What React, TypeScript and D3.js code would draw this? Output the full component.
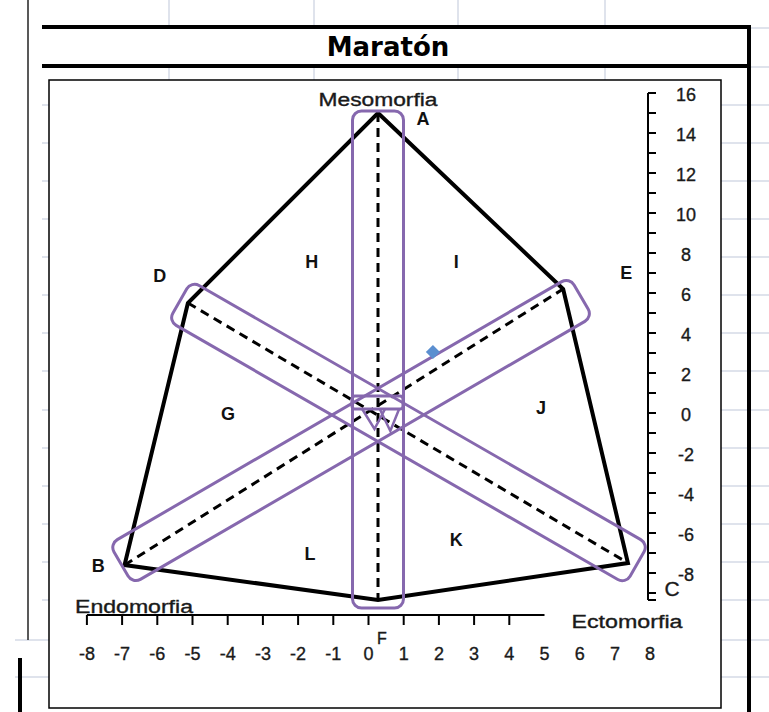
import React from "react";
import * as d3 from "d3";

// Somatochart frame vertices (x = ecto - endo, y = 2·meso - (endo + ecto))
const frameNames = ["A", "E", "C", "F", "B", "D"];
const frameX = [0, 5.26, 7.1, 0, -7.2, -5.4];
const frameY = [15, 6.2, -7.5, -9.35, -7.6, 5.5];

// Dashed reference axes through the origin
const axisLines: [string, string][] = [
  ["A", "F"],
  ["D", "C"],
  ["B", "E"],
];

// Rounded bands drawn around each reference axis (data ends + band width in px)
const bandX1 = [0, -5.63, -7.3];
const bandY1 = [15.1, 5.6, -7.55];
const bandX2 = [0, 7.36, 5.77];
const bandY2 = [-9.75, -7.55, 5.8];
const bandWidth = [51, 46, 46];

// Athlete's somatopoint
const pointX = [1.56];
const pointY = [3.05];

// Region / vertex labels
const labelText = ["A", "D", "E", "H", "I", "G", "J", "L", "K", "B"];
const labelX = [1.28, -6.2, 7.05, -1.88, 2.22, -4.26, 4.63, -1.93, 2.22, -7.95];
const labelY = [14.7, 6.85, 7.0, 7.55, 7.55, -0.05, 0.25, -7.05, -6.35, -7.65];

// Axis ticks
const xTickLabels = [-8, -7, -6, -5, -4, -3, -2, -1, 0, 1, 2, 3, 4, 5, 6, 7, 8];
const xTickMarks = [-8, -7, -6, -5, -4, -3, -2, -1, 0, 1, 2, 3, 4];
const yTickLabels = [16, 14, 12, 10, 8, 6, 4, 2, 0, -2, -4, -6, -8];
const yTickMarks = d3.range(-9, 17);

// Worksheet grid behind the chart
const gridRows = [105, 143, 181, 219, 257, 295, 333, 371, 410, 448, 486, 524, 562, 600];
const gridCols = [169, 314, 458, 605];

const W = 769;
const H = 712;

export default function App() {
  const x = d3.scaleLinear().domain([-8, 8]).range([96.4, 659.6]);
  const xAxis = d3.scaleLinear().domain([-8, 8]).range([86.9, 650.1]);
  const y = d3.scaleLinear().domain([-10, 16]).range([613, 93]);

  const pts = frameNames.map((n, i) => ({ n, x: frameX[i], y: frameY[i] }));
  const byName = (n: string) => pts.find((p) => p.n === n)!;
  const polyLine = d3
    .line<{ x: number; y: number }>()
    .x((d) => x(d.x))
    .y((d) => y(d.y))
    .curve(d3.curveLinearClosed);

  const purple = "#8668ae";
  const gridColor = "#d5dae6";
  const font = "'Liberation Sans', Arial, sans-serif";
  const ink = "#1a1a1a";

  const bands = bandX1.map((_, i) => {
    const p1 = [x(bandX1[i]), y(bandY1[i])];
    const p2 = [x(bandX2[i]), y(bandY2[i])];
    const len = Math.hypot(p2[0] - p1[0], p2[1] - p1[1]);
    const ang = (Math.atan2(p2[1] - p1[1], p2[0] - p1[0]) * 180) / Math.PI;
    return { p1, len, ang, w: bandWidth[i] };
  });

  const tickText = { fontFamily: font, fontSize: 18, fill: ink, stroke: ink, strokeWidth: 0.35 };

  return (
    <svg
      width={W}
      height={H}
      style={{ position: "fixed", left: 0, top: 0, background: "#fff" }}
    >
      {/* worksheet gridlines */}
      <g stroke={gridColor} strokeWidth={1.5}>
        {gridRows.map((r) => (
          <line key={"r" + r} x1={42} x2={W} y1={r} y2={r} />
        ))}
        <line x1={15} x2={W} y1={640} y2={640} />
        <line x1={15} x2={W} y1={677} y2={677} />
        <line x1={750} x2={W} y1={28} y2={28} />
        <line x1={750} x2={W} y1={67} y2={67} />
        {gridCols.map((c) => (
          <line key={"c" + c} x1={c} x2={c} y1={0} y2={82} />
        ))}
      </g>

      {/* sheet borders */}
      <line x1={28} x2={28} y1={0} y2={640} stroke="#222" strokeWidth={1.5} />
      <line x1={20} x2={20} y1={658} y2={H} stroke="#000" strokeWidth={4} />

      {/* title box */}
      <rect x={42} y={27} width={707} height={39} fill="#fff" />
      <line x1={42} x2={751} y1={27} y2={27} stroke="#000" strokeWidth={4} />
      <line x1={42} x2={751} y1={66} y2={66} stroke="#000" strokeWidth={4} />
      <line x1={749} x2={749} y1={25} y2={H} stroke="#000" strokeWidth={4} />
      <text
        x={388}
        y={56}
        textAnchor="middle"
        fontFamily="'DejaVu Sans', Verdana, sans-serif"
        fontWeight="bold"
        fontSize={26}
        fill="#000"
      >
        Maratón
      </text>

      {/* plot area */}
      <rect x={49} y={80} width={672} height={628} fill="#fff" stroke="#000" strokeWidth={1.5} />

      {/* frame polygon */}
      <path d={polyLine(pts) ?? ""} fill="none" stroke="#000" strokeWidth={4} strokeLinejoin="miter" />

      {/* dashed reference axes */}
      {axisLines.map(([a, b]) => {
        const pa = byName(a);
        const pb = byName(b);
        return (
          <line
            key={a + b}
            x1={x(pa.x)}
            y1={y(pa.y)}
            x2={x(pb.x)}
            y2={y(pb.y)}
            stroke="#000"
            strokeWidth={3}
            strokeDasharray="9 6"
          />
        );
      })}

      {/* rounded bands */}
      {bands.map((b, i) => (
        <g key={"b" + i} transform={`translate(${b.p1[0]},${b.p1[1]}) rotate(${b.ang})`}>
          <rect
            x={0}
            y={-b.w / 2}
            width={b.len}
            height={b.w}
            rx={9}
            ry={9}
            fill="none"
            stroke={purple}
            strokeWidth={3}
          />
        </g>
      ))}

      {/* small marks at the centre */}
      <rect x={x(-0.74)} y={y(0.85)} width={x(0.71) - x(-0.74)} height={y(0.2) - y(0.85)} rx={3} fill="none" stroke={purple} strokeWidth={3} />
      <path
        d={`M${x(-0.45)},${y(0.2)} L${x(-0.1)},${y(-0.8)} L${x(0.2)},${y(0.2)} M${x(0.05)},${y(0.2)} L${x(0.35)},${y(-0.9)} L${x(0.6)},${y(0.2)}`}
        fill="none"
        stroke={purple}
        strokeWidth={2.5}
      />

      {/* somatopoint */}
      {pointX.map((px, i) => (
        <rect
          key={"p" + i}
          x={x(px) - 5}
          y={y(pointY[i]) - 5}
          width={10}
          height={10}
          fill="#5b8fd0"
          transform={`rotate(45 ${x(px)} ${y(pointY[i])})`}
        />
      ))}

      {/* region / vertex labels */}
      {labelText.map((t, i) => (
        <text
          key={"l" + t}
          x={x(labelX[i])}
          y={y(labelY[i])}
          dy="0.36em"
          textAnchor="middle"
          fontFamily={font}
          fontWeight="bold"
          fontSize={18}
          fill="#111"
        >
          {t}
        </text>
      ))}
      <text x={672} y={588} dy="0.36em" textAnchor="middle" {...tickText} fontSize={21}>
        C
      </text>
      <text x={382} y={638} dy="0.36em" textAnchor="middle" {...tickText} fontSize={16}>
        F
      </text>

      {/* axis titles */}
      <text x={378} y={100} dy="0.36em" textAnchor="middle" {...tickText} textLength={119} lengthAdjust="spacingAndGlyphs">
        Mesomorfia
      </text>
      <text x={134} y={607} dy="0.36em" textAnchor="middle" {...tickText} textLength={118} lengthAdjust="spacingAndGlyphs">
        Endomorfia
      </text>
      <text x={627} y={622} dy="0.36em" textAnchor="middle" {...tickText} textLength={111} lengthAdjust="spacingAndGlyphs">
        Ectomorfia
      </text>

      {/* horizontal axis */}
      <line x1={xAxis(-8)} x2={xAxis(5)} y1={615} y2={615} stroke="#000" strokeWidth={2} />
      {xTickMarks.map((t) => (
        <line key={"xt" + t} x1={xAxis(t)} x2={xAxis(t)} y1={615} y2={625} stroke="#000" strokeWidth={2} />
      ))}
      {xTickLabels.map((t) => (
        <text key={"xl" + t} x={xAxis(t)} y={654} dy="0.36em" textAnchor="middle" {...tickText}>
          {t}
        </text>
      ))}

      {/* vertical axis */}
      <line x1={648} x2={648} y1={y(16)} y2={y(-9.35)} stroke="#000" strokeWidth={2} />
      {yTickMarks.map((t) => (
        <line key={"yt" + t} x1={648} x2={656} y1={y(t)} y2={y(t)} stroke="#000" strokeWidth={2} />
      ))}
      <line x1={648} x2={656} y1={y(-9.35)} y2={y(-9.35)} stroke="#000" strokeWidth={2} />
      {yTickLabels.map((t) => (
        <text key={"yl" + t} x={686} y={y(t) + 2} dy="0.36em" textAnchor="middle" {...tickText}>
          {t}
        </text>
      ))}
    </svg>
  );
}
